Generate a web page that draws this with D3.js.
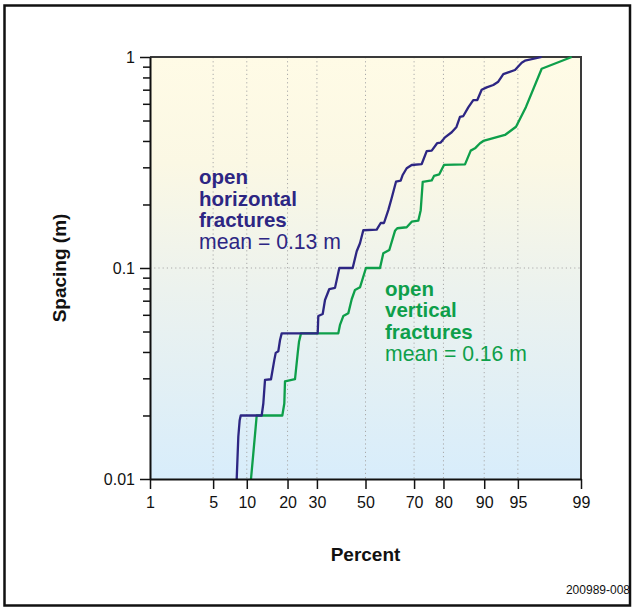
<!DOCTYPE html>
<html>
<head>
<meta charset="utf-8">
<script src="https://cdn.jsdelivr.net/npm/d3@7"></script>
<style>
  html, body { margin: 0; padding: 0; background: #fff; }
  svg { display: block; font-family: "Liberation Sans", Arial, Helvetica, sans-serif; }
</style>
</head>
<body>
<svg id="chart" width="632" height="608"></svg>
<script>
// ---------------- data ----------------
const horizPercent = [8.22, 8.49, 8.72, 8.90, 13.12, 13.50, 13.90, 15.38, 16.24, 16.62, 17.33, 17.81, 18.28,
  30.29, 30.52, 32.20, 33.10, 34.80, 37.10, 38.87, 44.50, 46.22, 47.63, 49.05, 54.81, 56.52, 57.91, 59.72,
  61.13, 62.90, 64.80, 65.60, 67.17, 69.10, 72.80, 74.56, 76.26, 78.08, 79.15, 80.46, 82.40, 83.70, 84.61,
  85.45, 86.64, 87.77, 88.63, 89.51, 90.46, 91.61, 92.41, 93.16, 94.67, 95.41, 95.74, 97.14];
const horizSpacing = [0.01, 0.0159, 0.019, 0.02, 0.02, 0.0228, 0.0295, 0.0297, 0.0366, 0.0396, 0.0403, 0.0456, 0.049,
  0.049, 0.0592, 0.0605, 0.0705, 0.0795, 0.0805, 0.1, 0.1, 0.12, 0.131, 0.151, 0.152, 0.1634, 0.1634, 0.188,
  0.2147, 0.2565, 0.2593, 0.276, 0.297, 0.3077, 0.311, 0.358, 0.36, 0.391, 0.393, 0.416, 0.44, 0.466, 0.52,
  0.525, 0.577, 0.625, 0.625, 0.70, 0.718, 0.737, 0.764, 0.83, 0.868, 0.94, 0.96, 1.0];

const vertPercent = [10.82, 11.29, 11.80, 12.01, 18.46, 19.04, 19.24, 22.33, 23.21, 23.64, 24.31, 38.45, 39.15,
  40.53, 42.64, 44.08, 45.49, 47.63, 50.2, 56.22, 57.62, 60.14, 62.49, 63.43, 67.17, 69.10, 71.57, 72.44,
  73.16, 76.26, 77.02, 78.71, 80.16, 85.86, 87.20, 88.14, 89.18, 89.83, 93.39, 94.79, 95.84, 97.14, 98.70];
const vertSpacing = [0.01, 0.0132, 0.0177, 0.02, 0.02, 0.0228, 0.029, 0.0297, 0.0394, 0.0447, 0.049, 0.049, 0.0537,
  0.0592, 0.061, 0.0711, 0.0787, 0.081, 0.1, 0.1, 0.1174, 0.1217, 0.15, 0.1543, 0.156, 0.1657, 0.1675, 0.188,
  0.256, 0.26, 0.273, 0.278, 0.308, 0.31, 0.36, 0.369, 0.39, 0.40, 0.427, 0.467, 0.58, 0.88, 1.0];

const xTickValues = [1, 5, 10, 20, 30, 50, 70, 80, 90, 95, 99];
const xGridValues = [5, 10, 20, 30, 50, 70, 80, 90, 95];
const yMajorTicks = [0.01, 0.1, 1];
const yMinorTicks = [0.02, 0.03, 0.04, 0.05, 0.06, 0.07, 0.08, 0.09, 0.2, 0.3, 0.4, 0.5, 0.6, 0.7, 0.8, 0.9];
const yTickLabels = {0.01: "0.01", 0.1: "0.1", 1: "1"};

const horizLabel = ["open", "horizontal", "fractures"];
const horizMean = "mean = 0.13 m";
const vertLabel = ["open", "vertical", "fractures"];
const vertMean = "mean = 0.16 m";

// ---------------- helpers ----------------
// inverse standard normal CDF (Acklam)
function probit(p) {
  const a = [-3.969683028665376e+01, 2.209460984245205e+02, -2.759285104469687e+02, 1.383577518672690e+02, -3.066479806614716e+01, 2.506628277459239e+00];
  const b = [-5.447609879822406e+01, 1.615858368580409e+02, -1.556989798598866e+02, 6.680131188771972e+01, -1.328068155288572e+01];
  const c = [-7.784894002430293e-03, -3.223964580411365e-01, -2.400758277161838e+00, -2.549732539343734e+00, 4.374664141464968e+00, 2.938163982698783e+00];
  const d = [7.784695709041462e-03, 3.224671290700398e-01, 2.445134137142996e+00, 3.754408661907416e+00];
  const pl = 0.02425, ph = 1 - pl;
  let q, r;
  if (p < pl) {
    q = Math.sqrt(-2 * Math.log(p));
    return (((((c[0]*q+c[1])*q+c[2])*q+c[3])*q+c[4])*q+c[5]) / ((((d[0]*q+d[1])*q+d[2])*q+d[3])*q+1);
  } else if (p <= ph) {
    q = p - 0.5; r = q * q;
    return (((((a[0]*r+a[1])*r+a[2])*r+a[3])*r+a[4])*r+a[5])*q / (((((b[0]*r+b[1])*r+b[2])*r+b[3])*r+b[4])*r+1);
  } else {
    q = Math.sqrt(-2 * Math.log(1 - p));
    return -(((((c[0]*q+c[1])*q+c[2])*q+c[3])*q+c[4])*q+c[5]) / ((((d[0]*q+d[1])*q+d[2])*q+d[3])*q+1);
  }
}

// normal-probability scale built on a d3 linear scale
function probabilityScale(dom, rng) {
  const lin = d3.scaleLinear().domain(dom.map(p => probit(p / 100))).range(rng);
  function s(p) { return lin(probit(p / 100)); }
  s.domain = () => dom.slice();
  s.range = () => lin.range();
  s.copy = () => probabilityScale(dom, rng);
  return s;
}

// ---------------- layout ----------------
const L = 150, R = 581, T = 57, B = 479;
const svg = d3.select("#chart");

const x = probabilityScale([1, 99], [L, R]);
const y = d3.scaleLog().domain([0.01, 1]).range([B, T]);

// outer frame
svg.append("rect").attr("x", 4.5).attr("y", 5.5).attr("width", 625.5).attr("height", 600)
  .attr("fill", "#fff").attr("stroke", "#111").attr("stroke-width", 2.5);

// plot background gradient
const defs = svg.append("defs");
const grad = defs.append("linearGradient").attr("id", "bg").attr("x1", 0).attr("y1", 0).attr("x2", 0).attr("y2", 1);
grad.append("stop").attr("offset", "0%").attr("stop-color", "#fffbe6");
grad.append("stop").attr("offset", "25%").attr("stop-color", "#fbf8e4");
grad.append("stop").attr("offset", "55%").attr("stop-color", "#ecf2ee");
grad.append("stop").attr("offset", "100%").attr("stop-color", "#d8edfb");
svg.append("rect").attr("x", L).attr("y", T).attr("width", R - L).attr("height", B - T).attr("fill", "url(#bg)");

// grid
const grid = svg.append("g").attr("stroke", "#aaaaaa").attr("stroke-width", 1).attr("stroke-dasharray", "1.2,3");
grid.selectAll("line.v").data(xGridValues).join("line").attr("class", "v")
  .attr("x1", d => x(d)).attr("x2", d => x(d)).attr("y1", T).attr("y2", B);
grid.append("line").attr("x1", L).attr("x2", R).attr("y1", y(0.1)).attr("y2", y(0.1));

// top and right frame of plot
svg.append("path").attr("d", `M${L},${T}H${R}V${B}`).attr("fill", "none").attr("stroke", "#3a3a3a").attr("stroke-width", 2);

// lines
const line = d3.line().x(d => x(d[0])).y(d => y(d[1]));
const horizData = horizPercent.map((p, i) => [p, horizSpacing[i]]);
const vertData = vertPercent.map((p, i) => [p, vertSpacing[i]]);
svg.append("path").datum(vertData).attr("d", line).attr("fill", "none")
  .attr("stroke", "#0e9f4a").attr("stroke-width", 2.3).attr("stroke-linejoin", "round");
svg.append("path").datum(horizData).attr("d", line).attr("fill", "none")
  .attr("stroke", "#2d2683").attr("stroke-width", 2.3).attr("stroke-linejoin", "round");

// axes
const xAxis = d3.axisBottom(x).tickValues(xTickValues).tickFormat(d => d).tickSize(10).tickSizeOuter(0).tickPadding(8);
const gx = svg.append("g").attr("transform", `translate(0,${B})`).call(xAxis);
gx.selectAll("text").attr("font-size", 16).attr("fill", "#111");
gx.selectAll("line").attr("stroke", "#111").attr("stroke-width", 1.5);
gx.select(".domain").attr("stroke", "#111").attr("stroke-width", 2);

const yMinor = d3.axisLeft(y).tickValues(yMinorTicks).tickFormat("").tickSize(7).tickSizeOuter(0);
const gyMinor = svg.append("g").attr("transform", `translate(${L},0)`).call(yMinor);
gyMinor.selectAll("line").attr("stroke", "#111").attr("stroke-width", 1.5);
gyMinor.select(".domain").remove();

const yAxis = d3.axisLeft(y).tickValues(yMajorTicks).tickFormat(d => yTickLabels[d]).tickSize(10).tickSizeOuter(0).tickPadding(5);
const gy = svg.append("g").attr("transform", `translate(${L},0)`).call(yAxis);
gy.selectAll("text").attr("font-size", 16).attr("fill", "#111");
gy.selectAll("line").attr("stroke", "#111").attr("stroke-width", 1.5);
gy.select(".domain").attr("stroke", "#111").attr("stroke-width", 2);
svg.selectAll(".tick text").attr("font-family", "'Liberation Sans', Arial, Helvetica, sans-serif");

// axis titles
svg.append("text").attr("x", (L + R) / 2).attr("y", 561).attr("text-anchor", "middle")
  .attr("font-size", 19).attr("font-weight", "bold").attr("fill", "#111").text("Percent");
svg.append("text").attr("transform", `translate(66,${(T + B) / 2}) rotate(-90)`).attr("text-anchor", "middle")
  .attr("font-size", 19).attr("font-weight", "bold").attr("fill", "#111").text("Spacing (m)");

// id label
svg.append("text").attr("x", 630).attr("y", 594).attr("text-anchor", "end")
  .attr("font-size", 12).attr("fill", "#111").text("200989-008");

// annotations
function annotate(x0, y0, lines, mean, color) {
  const g = svg.append("g").attr("fill", color);
  lines.forEach((t, i) => {
    g.append("text").attr("x", x0).attr("y", y0 + i * 21.5).attr("font-size", 20.5).attr("font-weight", "bold").text(t);
  });
  g.append("text").attr("x", x0).attr("y", y0 + (lines.length - 1) * 21.5 + 22).attr("font-size", 21.2).text(mean);
}
annotate(199, 184, horizLabel, horizMean, "#2d2683");
annotate(385, 295.5, vertLabel, vertMean, "#0e9f4a");
</script>
</body>
</html>
